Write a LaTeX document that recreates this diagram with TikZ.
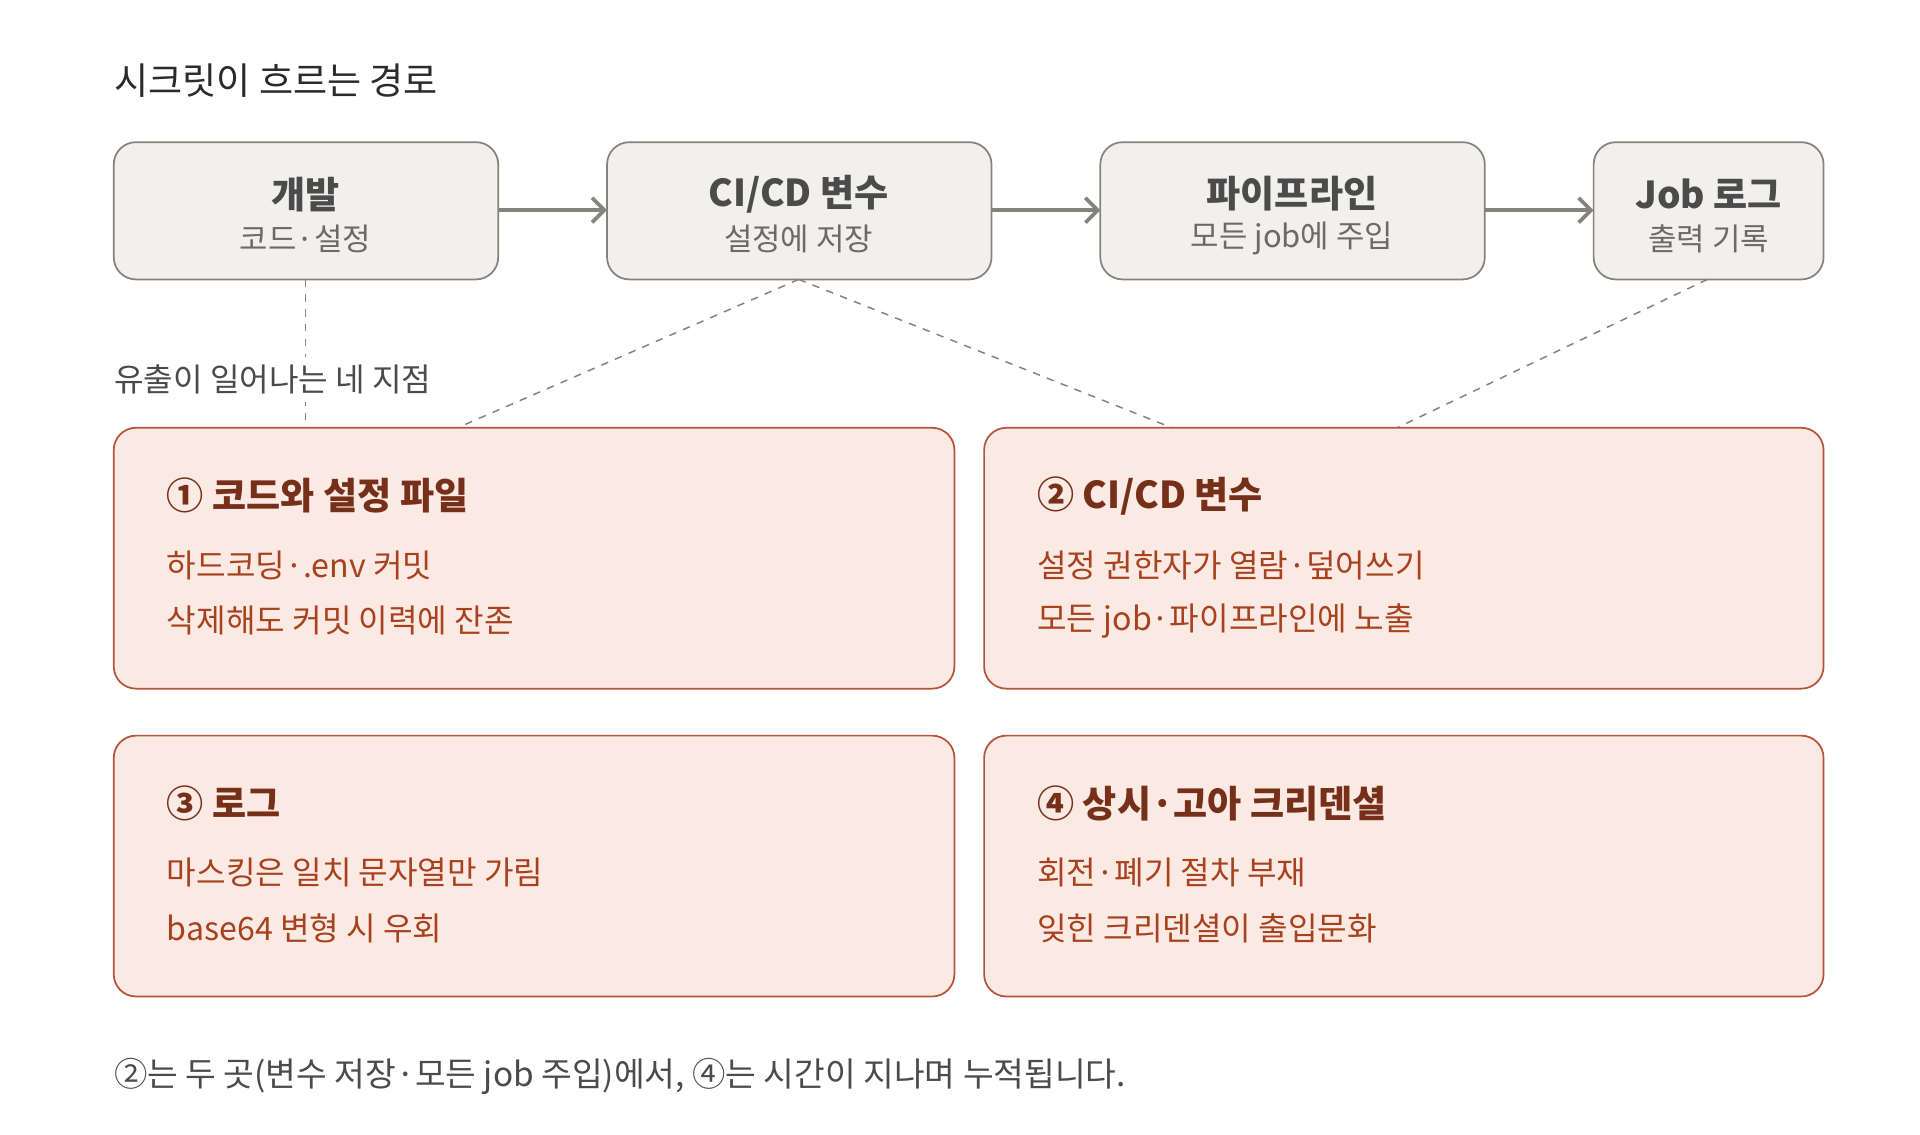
\documentclass[tikz,border=0pt]{standalone}
\usepackage{fontspec}
\setmainfont{Noto Sans CJK KR}
\usetikzlibrary{arrows.meta}
\definecolor{topfill}{HTML}{F1F0EC}
\definecolor{topdraw}{HTML}{85837E}
\definecolor{topsub}{HTML}{6B6A66}
\definecolor{redfill}{HTML}{FBE9E4}
\definecolor{reddraw}{HTML}{B4553A}
\definecolor{redhead}{HTML}{76301A}
\definecolor{redtxt}{HTML}{A8421E}
\definecolor{dark}{HTML}{2B2B2B}
\tikzset{
 topbox/.style={draw=topdraw,fill=topfill,rounded corners=9pt,line width=0.7pt},
 redbox/.style={draw=reddraw,fill=redfill,rounded corners=9pt,line width=0.7pt},
 flow/.style={draw=topdraw,line width=1.5pt,-{Straight Barb[length=5pt,width=10pt]}},
 dashline/.style={draw=topdraw,dashed,line width=0.6pt},
 ttl/.style={font=\fontsize{15}{18}\selectfont\bfseries,text=dark!85},
 sub/.style={font=\fontsize{12.5}{14}\selectfont,text=topsub},
 rhead/.style={anchor=west,font=\fontsize{15}{18}\selectfont\bfseries,text=redhead},
 rline/.style={anchor=west,font=\fontsize{13}{15}\selectfont,text=redtxt},
}
\begin{document}
\begin{tikzpicture}[x=0.5pt,y=-0.5pt]
\useasboundingbox[fill=white] (0,0) rectangle (1553,918);
\node[anchor=west,inner xsep=0pt,font=\fontsize{15}{18}\selectfont,text=dark] (title) at (92,65) {시크릿이 흐르는 경로};
% top boxes
\path[topbox] (92,115) rectangle (403,226);
\path[topbox] (491,115) rectangle (802,226);
\path[topbox] (890,115) rectangle (1201,226);
\path[topbox] (1289,115) rectangle (1475,226);
\coordinate (b1r) at (403,170); \coordinate (b2l) at (491,170);
\coordinate (b2r) at (802,170); \coordinate (b3l) at (890,170);
\coordinate (b3r) at (1201,170); \coordinate (b4l) at (1289,170);
\node[ttl] (t1) at (247,157) {개발}; \node[sub] (s1) at (247,193) {코드·설정};
\node[ttl] (t2) at (646,157) {CI/CD 변수}; \node[sub] (s2) at (646,193) {설정에 저장};
\node[ttl] (t3) at (1045,157) {파이프라인}; \node[sub] (s3) at (1045,193) {모든 job에 주입};
\node[ttl] (t4) at (1382,157) {Job 로그}; \node[sub] (s4) at (1382,193) {출력 기록};
\draw[flow] (b1r) -- (b2l); \draw[flow] (b2r) -- (b3l); \draw[flow] (b3r) -- (b4l);
% dashed
\coordinate (d1) at (247,226); \coordinate (e1) at (247,346);
\coordinate (d2) at (646,226); \coordinate (e2) at (370,346); \coordinate (e3) at (948,346);
\coordinate (d4) at (1381,226); \coordinate (e4) at (1130,346);
\draw[dashline] (d1) -- (e1); \draw[dashline] (d2) -- (e2); \draw[dashline] (d2) -- (e3); \draw[dashline] (d4) -- (e4);
\node[anchor=west,font=\fontsize{13}{15}\selectfont,text=dark!85,fill=white,inner xsep=0pt] (leak) at (92,307) {유출이 일어나는 네 지점};
% red boxes
\path[redbox] (92,346) rectangle (772,557);
\path[redbox] (796,346) rectangle (1475,557);
\path[redbox] (92,595) rectangle (772,806);
\path[redbox] (796,595) rectangle (1475,806);
\node[rhead] (h1) at (128,401) {① 코드와 설정 파일};
\node[rline] at (128,457) {하드코딩·.env 커밋};
\node[rline] at (128,502) {삭제해도 커밋 이력에 잔존};
\node[rhead] (h2) at (832,401) {② CI/CD 변수};
\node[rline] at (832,457) {설정 권한자가 열람·덮어쓰기};
\node[rline] at (832,502) {모든 job·파이프라인에 노출};
\node[rhead] (h3) at (128,650) {③ 로그};
\node[rline] at (128,706) {마스킹은 일치 문자열만 가림};
\node[rline] at (128,751) {base64 변형 시 우회};
\node[rhead] (h4) at (832,650) {④ 상시·고아 크리덴셜};
\node[rline] at (832,706) {회전·폐기 절차 부재};
\node[rline] at (832,751) {잊힌 크리덴셜이 출입문화};
\node[anchor=west,inner xsep=0pt,font=\fontsize{13.5}{15}\selectfont,text=dark!85] (foot) at (92,871) {②는 두 곳(변수 저장·모든 job 주입)에서, ④는 시간이 지나며 누적됩니다.};
\end{tikzpicture}
\end{document}
